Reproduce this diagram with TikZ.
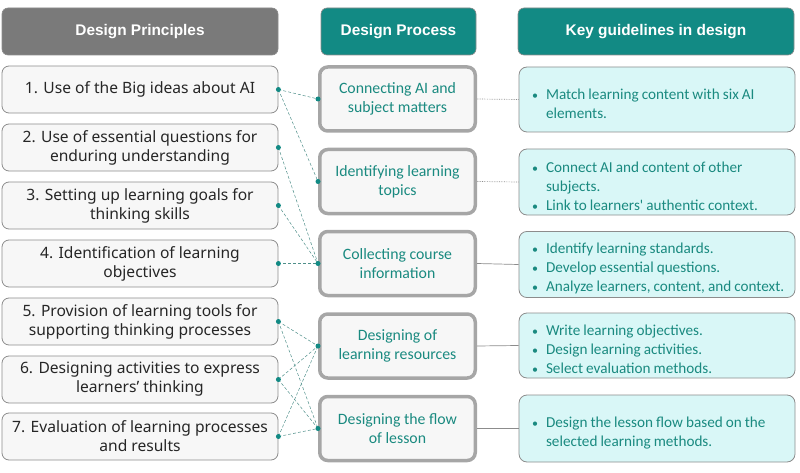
\documentclass[tikz,border=0pt]{standalone}
\usepackage{fontspec}
\setmainfont{Noto Sans}
\newfontfamily\segoe{Carlito}
\newfontfamily\hdr{Liberation Sans}
\definecolor{tealh}{HTML}{128A84}
\definecolor{tealt}{HTML}{1A8A80}
\definecolor{grayh}{HTML}{7A7A7A}
\definecolor{lfill}{HTML}{F7F7F7}
\definecolor{rfill}{HTML}{D9F7F7}
\definecolor{bord}{HTML}{8C8C8C}
\definecolor{linec}{HTML}{4F8F8A}
\newcommand{\bul}{\makebox[15pt][l]{\kern1pt{\fontsize{12}{12}\selectfont\textbullet}}}
\newcommand{\bitem}[1]{\par\noindent\spaceskip=0.2em plus 0.05em\relax\bul\mbox{#1}}
\newcommand{\bcont}[1]{\\\hspace*{15pt}\mbox{\spaceskip=0.2em plus 0.05em\relax #1}}
\tikzset{
  header/.style={rounded corners=6pt, draw=bord, line width=0.6pt, minimum height=47pt, font=\hdr\fontsize{15.4}{18}\selectfont\bfseries, text=white},
  lbox/.style={rounded corners=7pt, draw=bord, line width=0.8pt, fill=lfill, minimum width=276pt, minimum height=47pt, align=center, font=\fontsize{15.6}{19}\selectfont, text=black!85},
  mbox/.style={rounded corners=8pt, draw=black!35, line width=3.5pt, fill=lfill, minimum width=155.5pt, minimum height=64pt, align=center, font=\segoe\fontsize{15.8}{19}\selectfont, text=tealt},
  rbox/.style={rounded corners=8pt, draw=bord, line width=0.8pt, fill=rfill, text width=252pt, inner xsep=12pt, minimum width=276pt, align=left, font=\segoe\fontsize{15.2}{19}\selectfont, text=tealt},
  dot/.style={circle, fill=tealh, inner sep=0pt, minimum size=5pt},
  lk/.style={draw=linec, line width=0.5pt, densely dashed},
  rk/.style={draw=black!45, line width=0.7pt},
  rkd/.style={draw=black!45, line width=0.7pt, densely dotted}
}
\begin{document}
\begin{tikzpicture}[x=1pt,y=-1pt]
\useasboundingbox (0,0) rectangle (800,473);
% headers
\node[header, fill=grayh, minimum width=276pt] (hl) at (140,31.5) {Design Principles};
\node[header, fill=tealh, minimum width=155pt] (hm) at (398.5,31.5) {Design Process};
\node[header, fill=tealh, minimum width=276pt] (hr) at (656,31.5) {Key guidelines in design};
% left boxes
\node[lbox] (l1) at (140,89.5) {1. Use of the Big ideas about AI};
\node[lbox] (l2) at (140,147.5) {2. Use of essential questions for\\enduring understanding};
\node[lbox] (l3) at (140,205.5) {3. Setting up learning goals for\\thinking skills};
\node[lbox] (l4) at (140,263.5) {4. Identification of learning\\objectives};
\node[lbox] (l5) at (140,321.5) {5. Provision of learning tools for\\supporting thinking processes};
\node[lbox] (l6) at (140,379.5) {6. Designing activities to express\\learners' thinking};
\node[lbox] (l7) at (140,436.5) {7. Evaluation of learning processes\\and results};
% middle boxes
\node[mbox] (ma) at (397.5,99) {Connecting AI and\\subject matters};
\node[mbox] (mb) at (397.5,181.5) {Identifying learning\\topics};
\node[mbox] (mc) at (397.5,263.5) {Collecting course\\information};
\node[mbox] (md) at (397.5,346) {Designing of\\learning resources};
\node[mbox] (me) at (397.5,428.5) {Designing the flow\\of lesson};
% right boxes
\node[rbox, minimum height=65pt] (ra) at (657,99.5) {\bitem{Match learning content with six AI}\bcont{elements.}};
\node[rbox, minimum height=66pt] (rb) at (657,182) {\bitem{Connect AI and content of other}\bcont{subjects.}\bitem{Link to learners' authentic context.}};
\node[rbox, minimum height=65pt] (rc) at (657,264.5) {\bitem{Identify learning standards.}\bitem{Develop essential questions.}\bitem{Analyze learners, content, and context.}};
\node[rbox, minimum height=65pt] (rd) at (657,345.5) {\bitem{Write learning objectives.}\bitem{Design learning activities.}\bitem{Select evaluation methods.}};
\node[rbox, minimum height=67pt] (re) at (657,428.5) {\bitem{Design the lesson flow based on the}\bcont{selected learning methods.}};
% middle to right connectors
\draw[rkd] (ma.east) -- (ra.west);
\draw[rkd] (mb.east) -- (rb.west);
\draw[rk] (mc.east) -- (rc.west);
\draw[rk] (md.east) -- (rd.west);
\draw[rk] (me.east) -- (re.west);
% left to middle connectors
\draw[lk] (l1.east) -- (ma.west);
\draw[lk] (l1.east) -- (mb.west);
\draw[lk] (l2.east) -- (mc.west);
\draw[lk] (l3.east) -- (mc.west);
\draw[lk] (l4.east) -- (mc.west);
\draw[lk] (l5.east) -- (md.west);
\draw[lk] (l5.east) -- (me.west);
\draw[lk] (l6.east) -- (md.west);
\draw[lk] (l6.east) -- (me.west);
\draw[lk] (l7.east) -- (md.west);
\draw[lk] (l7.east) -- (me.west);
% dots
\foreach \n in {l1,l2,l3,l4,l5,l6,l7}{ \node[dot] at (\n.east) {}; }
\foreach \n in {ma,mb,mc,md,me}{ \node[dot] at (\n.west) {}; }
\end{tikzpicture}
\end{document}
